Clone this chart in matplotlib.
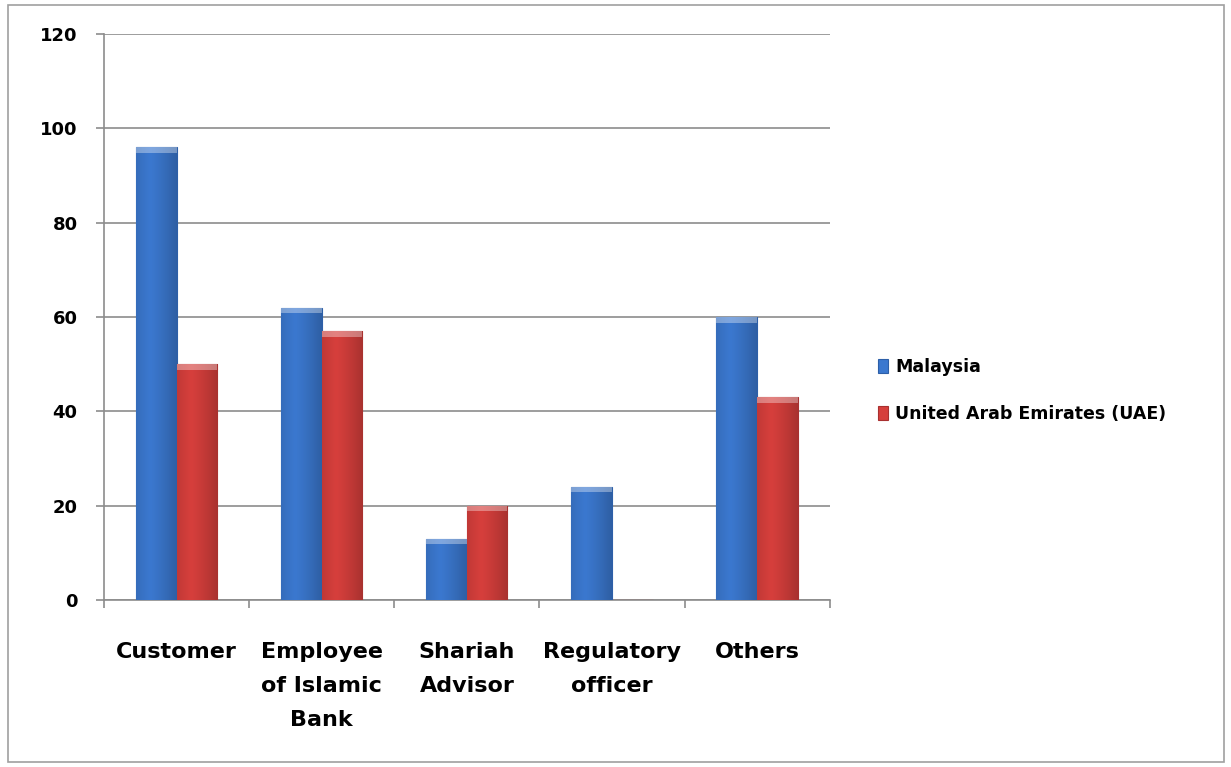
import matplotlib.pyplot as plt
import numpy as np
from matplotlib.patches import Rectangle

categories = ["Customer", "Employee\nof Islamic\nBank", "Shariah\nAdvisor", "Regulatory\nofficer", "Others"]
malaysia = [96, 62, 13, 24, 60]
uae = [50, 57, 20, 0, 43]
series_names = ["Malaysia", "United Arab Emirates (UAE)"]
y_ticks = [0, 20, 40, 60, 80, 100, 120]

BLUE = "#3b78cf"
RED = "#d63f3c"
GRID = "#8c8c8c"

plt.rcParams["font.family"] = ["DejaVu Sans"]

fig = plt.figure(figsize=(12.31, 7.67), dpi=100)
ax = fig.add_axes([0.0845, 0.2177, 0.5895, 0.738])

# outer frame like the exported chart area
fig.patches.append(Rectangle((0.0065, 0.006), 0.988, 0.987, transform=fig.transFigure,
                             fill=False, edgecolor="#a0a0a0", linewidth=1.2))

x = np.arange(len(categories))
w = 0.28
bars_m = ax.bar(x - w / 2, malaysia, w, color=BLUE, edgecolor="#2d5fa8", linewidth=0.8,
                label=series_names[0], zorder=3)
bars_u = ax.bar(x + w / 2, uae, w, color=RED, edgecolor="#a83030", linewidth=0.8,
                label=series_names[1], zorder=3)

# cylinder-ish shading: horizontal gradient clipped to each bar
grad = np.linspace(0, 1, 64)
shade = 1 - 0.35 * np.abs(grad - 0.35) ** 1.2
for bars, base in ((bars_m, BLUE), (bars_u, RED)):
    rgb = np.array(plt.matplotlib.colors.to_rgb(base))
    img = (shade[:, None] * rgb[None, :])[None, :, :]
    for b in bars:
        if b.get_height() <= 0:
            continue
        bx, by = b.get_x(), b.get_y()
        bw, bh = b.get_width(), b.get_height()
        im = ax.imshow(img, extent=[bx, bx + bw, by, by + bh], aspect="auto", zorder=3.5,
                       interpolation="bicubic")
        im.set_clip_path(b)
        # lighter top bevel
        ax.add_patch(Rectangle((bx, by + bh - 1.2), bw, 1.2, color="white", alpha=0.35,
                               linewidth=0, zorder=4))

ax.set_xlim(-0.5, len(categories) - 0.5)
ax.set_ylim(0, 120)
ax.set_yticks(y_ticks)
ax.set_yticklabels([str(v) for v in y_ticks], fontsize=13, fontweight="bold")
ax.yaxis.grid(True, color=GRID, linewidth=1.2, zorder=0)
ax.set_axisbelow(True)

ax.set_xticks(np.arange(len(categories) + 1) - 0.5)
ax.set_xticklabels([])
ax.set_xticks(x, minor=True)
ax.set_xticklabels(categories, minor=True, fontsize=16, fontweight="bold", linespacing=1.88,
                   va="top")
ax.tick_params(axis="x", which="minor", length=0, pad=30)
ax.tick_params(axis="x", which="major", length=6, color=GRID, width=1.2)
ax.tick_params(axis="y", length=6, color=GRID, width=1.2, pad=13)

for side in ("top", "right"):
    ax.spines[side].set_visible(False)
for side in ("left", "bottom"):
    ax.spines[side].set_color(GRID)
    ax.spines[side].set_linewidth(1.2)

leg = ax.legend(loc="center left", bbox_to_anchor=(1.045, 0.37), frameon=False,
                prop={"size": 12.5, "weight": "bold"}, handlelength=0.6, handleheight=0.9,
                labelspacing=1.65, handletextpad=0.4)

fig.savefig("out.png", dpi=100)
